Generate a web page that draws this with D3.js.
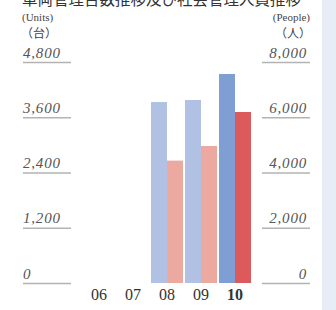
<!DOCTYPE html>
<html>
<head>
<meta charset="utf-8">
<script src="https://cdn.jsdelivr.net/npm/d3@7"></script>
<style>
  body { margin: 0; background: #fff; }
  svg { display: block; }
</style>
</head>
<body>
<svg id="chart" width="336" height="310"></svg>
<script>
// values
const years = ['06', '07', '08', '09', '10']
const units = [null, null, 3930, 3975, 4540]     // 台, left axis
const people = [null, null, 4430, 4960, 6190]    // 人, right axis
const unitTicks = [0, 1200, 2400, 3600, 4800]
const peopleTicks = [0, 2000, 4000, 6000, 8000]

const lightColors = ['#b0c1e3', '#eba99f']
const darkColors = ['#7f9fd4', '#dc5a5c']

const svg = d3.select('#chart')
const W = 336, H = 310
const plotTop = 62, plotBottom = 283

// right side panel
svg.append('rect')
  .attr('x', 322).attr('y', 0)
  .attr('width', W - 322).attr('height', H)
  .attr('fill', '#e8ecf7')

// title, cut off at the top
svg.append('text')
  .attr('x', 22).attr('y', 5)
  .style('font-family', '"Noto Sans CJK JP"')
  .style('font-size', '15.5px')
  .attr('fill', '#333')
  .text('車両管理台数推移及び社会管理人員推移')

const yL = d3.scaleLinear().domain([0, 4800]).range([plotBottom, plotTop])
const yR = d3.scaleLinear().domain([0, 8000]).range([plotBottom, plotTop])

const fmt = d3.format(',')

// left axis: short rules with the labels sitting on them
const gL = svg.append('g')
  .attr('transform', 'translate(23,0)')
  .call(d3.axisRight(yL).tickValues(unitTicks).tickSize(48).tickFormat(fmt))
gL.select('.domain').remove()
gL.selectAll('line').attr('stroke', '#b3b3b3').attr('stroke-width', 1.5)
gL.selectAll('text')
  .attr('x', 0).attr('dy', -5)
  .attr('text-anchor', 'start')
  .style('font-family', '"Liberation Serif", serif')
  .style('font-style', 'italic')
  .style('font-size', '15px')
  .style('letter-spacing', '0.8px')
  .attr('fill', '#555')

const gR = svg.append('g')
  .attr('transform', 'translate(310,0)')
  .call(d3.axisLeft(yR).tickValues(peopleTicks).tickSize(48).tickFormat(fmt))
gR.select('.domain').remove()
gR.selectAll('line').attr('stroke', '#b3b3b3').attr('stroke-width', 1.5)
gR.selectAll('text')
  .attr('x', -3).attr('dy', -5)
  .attr('text-anchor', 'end')
  .style('font-family', '"Liberation Serif", serif')
  .style('font-style', 'italic')
  .style('font-size', '15px')
  .style('letter-spacing', '0.8px')
  .attr('fill', '#555')

// unit captions
svg.append('text').attr('x', 22).attr('y', 21)
  .style('font-family', '"Liberation Serif", serif').style('font-size', '11px')
  .attr('fill', '#444').text('(Units)')
svg.append('text').attr('x', 21).attr('y', 37.5)
  .style('font-family', '"Noto Sans CJK JP"').style('font-size', '12px')
  .attr('fill', '#444').text('（台）')
svg.append('text').attr('x', 310).attr('y', 21).attr('text-anchor', 'end')
  .style('font-family', '"Liberation Serif", serif').style('font-size', '11px')
  .attr('fill', '#444').text('(People)')
svg.append('text').attr('x', 311).attr('y', 37.5).attr('text-anchor', 'end')
  .style('font-family', '"Noto Sans CJK JP"').style('font-size', '12px')
  .attr('fill', '#444').text('（人）')

// bars
const x = d3.scaleBand().domain(years).range([82, 252]).paddingInner(0.06).paddingOuter(0.03)
const x1 = d3.scaleBand().domain([0, 1]).range([0, x.bandwidth()])

const rows = years.map((yr, i) => ({ yr, last: i === years.length - 1, vals: [units[i], people[i]] }))

const groups = svg.selectAll('.grp')
  .data(rows)
  .enter()
  .append('g')
  .attr('class', 'grp')
  .attr('transform', d => 'translate(' + x(d.yr) + ',0)')

groups.selectAll('rect')
  .data(d => d.vals.map((v, k) => ({ v, k, last: d.last })).filter(e => e.v != null))
  .enter()
  .append('rect')
  .attr('x', e => x1(e.k))
  .attr('width', x1.bandwidth())
  .attr('y', e => (e.k === 0 ? yL : yR)(e.v))
  .attr('height', e => plotBottom - (e.k === 0 ? yL : yR)(e.v))
  .attr('fill', e => (e.last ? darkColors : lightColors)[e.k])

// year labels
const gX = svg.append('g')
  .attr('transform', 'translate(0,' + plotBottom + ')')
  .call(d3.axisBottom(x).tickSize(0).tickPadding(6))
gX.select('.domain').remove()
gX.selectAll('text')
  .style('font-family', '"Liberation Serif", serif')
  .style('font-size', '16px')
  .style('font-weight', d => d === '10' ? 'bold' : 'normal')
  .attr('fill', '#333')
</script>
</body>
</html>
